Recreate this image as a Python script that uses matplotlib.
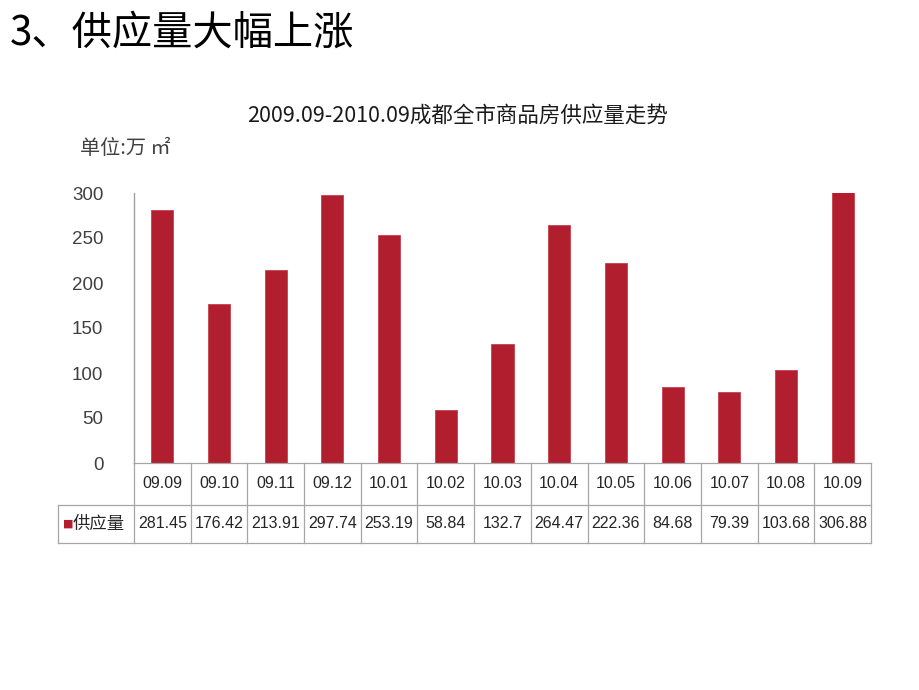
import matplotlib.pyplot as plt
from matplotlib.transforms import blended_transform_factory

plt.rcParams['font.family'] = ['Noto Sans CJK SC', 'DejaVu Sans']

months = ['09.09', '09.10', '09.11', '09.12', '10.01', '10.02', '10.03',
          '10.04', '10.05', '10.06', '10.07', '10.08', '10.09']
supply = [281.45, 176.42, 213.91, 297.74, 253.19, 58.84, 132.7,
          264.47, 222.36, 84.68, 79.39, 103.68, 306.88]
supply_labels = ['281.45', '176.42', '213.91', '297.74', '253.19', '58.84', '132.7',
                 '264.47', '222.36', '84.68', '79.39', '103.68', '306.88']
yticks = [0, 50, 100, 150, 200, 250, 300]
series_name = '供应量'

bar_color = '#B11E2E'
grid_color = '#A6A6A6'
num_font = ['Liberation Sans', 'DejaVu Sans']


def main():
    fig = plt.figure(figsize=(9.2, 6.9), dpi=100)
    fig.patch.set_facecolor('white')

    # slide heading
    fig.text(10 / 920, 1 - 33 / 690, '3、供应量大幅上涨', fontsize=29,
             ha='left', va='center', color='black')

    ax = fig.add_axes([134 / 920, 1 - 463 / 690, 737 / 920, 270 / 690])
    x = list(range(len(months)))
    ax.bar(x, supply, width=0.39, color=bar_color, edgecolor='#C8404C', linewidth=0.6)
    ax.set_xlim(-0.5, len(months) - 0.5)
    ax.set_ylim(0, 300)
    ax.set_yticks(yticks)
    ax.set_yticklabels([str(v) for v in yticks], fontsize=13.5, color='#404040',
                       family=num_font)
    ax.tick_params(axis='y', length=0, pad=22)
    ax.set_xticks([])
    for side in ['top', 'right', 'bottom']:
        ax.spines[side].set_visible(False)
    ax.spines['left'].set_color('#A0A0A0')
    ax.spines['left'].set_linewidth(1.0)

    # chart title and unit
    fig.text(458 / 920, 1 - 116 / 690, '2009.09-2010.09成都全市商品房供应量走势',
             fontsize=15.5, ha='center', va='center', color='#1a1a1a')
    fig.text(80 / 920, 1 - 148 / 690, '单位:万 ㎡', fontsize=14.5,
             ha='left', va='center', color='#404040')

    # data table under the axis
    tr = blended_transform_factory(ax.transData, ax.transAxes)
    col_w = 737 / 13
    r1 = -42 / 270
    r2 = -80 / 270
    left = -0.5 - 76 / col_w
    right = len(months) - 0.5
    lw = 0.9
    ax.plot([-0.5, right], [0, 0], color=grid_color, lw=lw, transform=tr, clip_on=False)
    ax.plot([left, right], [r1, r1], color=grid_color, lw=lw, transform=tr, clip_on=False)
    ax.plot([left, right], [r2, r2], color=grid_color, lw=lw, transform=tr, clip_on=False)
    ax.plot([left, left], [r1, r2], color=grid_color, lw=lw, transform=tr, clip_on=False)
    for i in range(len(months) + 1):
        xi = i - 0.5
        ax.plot([xi, xi], [0, r2], color=grid_color, lw=lw, transform=tr, clip_on=False)

    for i, (m, v) in enumerate(zip(months, supply_labels)):
        ax.text(i, r1 / 2, m, transform=tr, ha='center', va='center',
                fontsize=11.5, color='#262626', family=num_font, clip_on=False)
        ax.text(i, (r1 + r2) / 2, v, transform=tr, ha='center', va='center',
                fontsize=11.5, color='#262626', family=num_font, clip_on=False)

    # legend key in the table
    ax.text(left + 5 / col_w, (r1 + r2) / 2, '■', transform=tr, ha='left', va='center',
            fontsize=8, color=bar_color, family=['DejaVu Sans'], clip_on=False)
    ax.text(left + 15 / col_w, (r1 + r2) / 2, series_name, transform=tr, ha='left',
            va='center', fontsize=12.5, color='#262626', clip_on=False)

    fig.savefig('out.png', dpi=100)


if __name__ == '__main__':
    main()
